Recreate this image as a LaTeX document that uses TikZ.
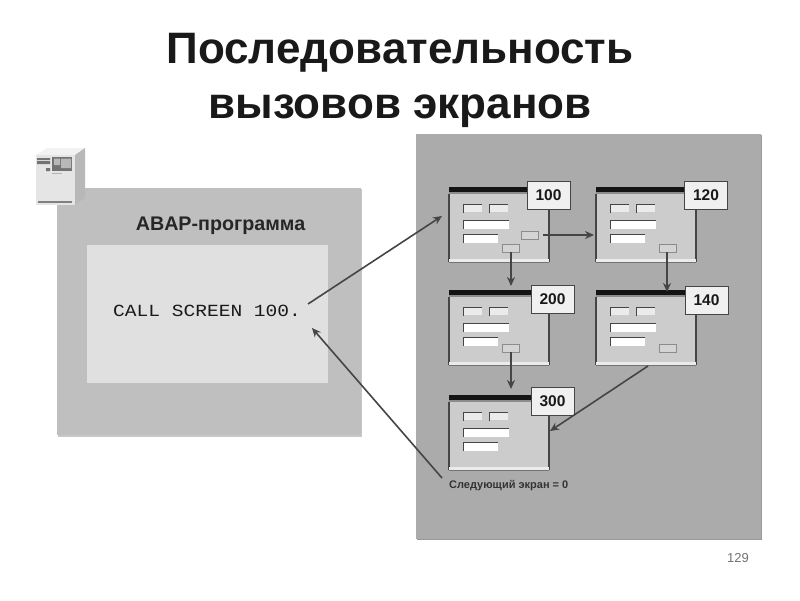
\documentclass[tikz,border=0pt]{standalone}
\usepackage{fontspec}
\setmainfont{Liberation Sans}
\setmonofont{Liberation Mono}
\usetikzlibrary{arrows.meta}
\definecolor{panelR}{gray}{0.67}
\definecolor{panelL}{gray}{0.75}
\definecolor{inner}{gray}{0.88}
\definecolor{winbody}{gray}{0.80}
\definecolor{dk}{gray}{0.27}
\tikzset{
 x=1pt,y=-1pt,
 winbox/.style={anchor=north west,inner sep=0pt,minimum width=100pt,minimum height=76pt,fill=winbody},
 tag/.style={draw=dk,line width=1pt,fill=black!6,inner sep=0pt,minimum width=43pt,minimum height=28pt,font=\bfseries\fontsize{15.5}{15.5}\selectfont,text=black!90},
 conn/.style={draw=dk,line width=1.6pt,-{Stealth[length=9pt,width=8pt]}},
 btn/.style={draw=black!45,line width=0.7pt,fill=black!17,inner sep=0pt,minimum width=17pt,minimum height=8pt},
}
\newcommand{\screenwin}[3]{% name x y
 \node[winbox] (#1) at (#2,#3) {};
 \begin{scope}[shift={(#2,#3)}]
 \fill[black!92] (0,0) rectangle (100,5);
 \fill[black!45] (0,5) rectangle (100,7);
 \draw[dk,line width=1.2pt] (0,7) -- (0,75) (100,7) -- (100,75);
 \fill[black!8] (0,72) rectangle (100,75);
 \draw[black!55,line width=0.7pt] (0,75.5) -- (100,75.5);
 \fill[black!8] (15,18) rectangle (33,25);
 \draw[dk,line width=1.2pt] (14.5,26) -- (14.5,17.5) -- (33,17.5);
 \fill[black!8] (41,18) rectangle (59,25);
 \draw[dk,line width=1.2pt] (40.5,26) -- (40.5,17.5) -- (59,17.5);
 \fill[white] (15,34) rectangle (60,42);
 \draw[dk,line width=1.2pt] (14.5,42) -- (14.5,33.5) -- (60,33.5);
 \fill[white] (15,48) rectangle (49,56);
 \draw[dk,line width=1.2pt] (14.5,56) -- (14.5,47.5) -- (49,47.5);
 \end{scope}
}
\begin{document}
\begin{tikzpicture}
\useasboundingbox (0,0) rectangle (800,600);
\fill[white] (0,0) rectangle (800,600);
% title
\node[font=\bfseries\fontsize{44}{55}\selectfont,align=center,anchor=center,text=black!90] (title) at (400,80) {Последовательность\\вызовов экранов};
% left panel
\fill[black!22] (58,189) rectangle (362,437);
\node[anchor=north west,fill=panelL,inner sep=0pt,minimum width=304pt,minimum height=247pt] (leftp) at (57,188) {};
\node[anchor=north west,fill=inner,inner sep=0pt,minimum width=241pt,minimum height=138pt] (code) at (87,245) {};
\node[font=\bfseries\fontsize{19.7}{20}\selectfont,text=black!85] (abap) at (220.5,226) {ABAP-программа};
\node[anchor=west,xscale=1.15,font=\ttfamily\fontsize{17}{17}\selectfont,text=black!90,inner sep=0pt] (call) at (113,311) {CALL SCREEN 100.};
% server icon
\fill[black!5] (36,155) -- (47,148) -- (85,148) -- (75,155) -- cycle;
\fill[black!28] (75,155) -- (85,148) -- (85,198) -- (75,205) -- cycle;
\node[anchor=north west,fill=black!10,inner sep=0pt,minimum width=39pt,minimum height=50pt] (server) at (36,155) {};
\fill[black!55] (37,158) rectangle (50,160) (37,161) rectangle (50,164) (46,168) rectangle (50,171);
\fill[black!55] (52,157) rectangle (72,171);
\fill[black!28] (54,158.5) rectangle (60,165) (61,158.5) rectangle (71,168);
\fill[black!30] (52,173) rectangle (62,174);
\fill[black!50] (38,201) rectangle (72,203);
% right panel
\fill[black!40] (417,135) rectangle (762,540);
\node[anchor=north west,fill=panelR,inner sep=0pt,minimum width=345pt,minimum height=405pt] (rightp) at (416,134) {};
% windows
\screenwin{w100}{449}{187}
\screenwin{w120}{596}{187}
\screenwin{w200}{449}{290}
\screenwin{w140}{596}{290}
\screenwin{w300}{449}{395}
% buttons
\node[btn] (b100r) at (530,235) {};
\node[btn] (b100d) at (511,248) {};
\node[btn] (b120d) at (668,248) {};
\node[btn] (b200d) at (511,348) {};
\node[btn] (b140r) at (668,348) {};
% tags
\node[tag] at (548.5,195) (t100) {100};
\node[tag] at (706,195) (t120) {120};
\node[tag] at (552.5,299) (t200) {200};
\node[tag] at (706.5,300) (t140) {140};
\node[tag] at (552.5,401) (t300) {300};
% note
\node[anchor=west,inner sep=0pt,font=\bfseries\fontsize{11}{11}\selectfont,text=black!80] (note) at (449,486) {Следующий экран = 0};
\node[font=\fontsize{13}{13}\selectfont,text=black!55] (pg) at (738,558) {129};
% free ends
\coordinate (in100) at (442,216);
\coordinate (callout) at (308,304);
\coordinate (callin) at (312,328);
\coordinate (noteout) at (442,478);
\coordinate (a120) at (594,235);
\coordinate (s100r) at (543,235);
\coordinate (a200) at (511,286);
\coordinate (s100d) at (511,252);
\coordinate (a140) at (667,292);
\coordinate (s120d) at (667,252);
\coordinate (s200d) at (511,352);
\coordinate (a300) at (511,389);
\coordinate (s140) at (648,366);
\coordinate (a300r) at (550,431);
\draw[conn] (callout) -- (in100);
\draw[conn] (noteout) -- (callin);
\draw[conn] (s100r) -- (a120);
\draw[conn] (s100d) -- (a200);
\draw[conn] (s120d) -- (a140);
\draw[conn] (s200d) -- (a300);
\draw[conn] (s140) -- (a300r);
\end{tikzpicture}
\end{document}
